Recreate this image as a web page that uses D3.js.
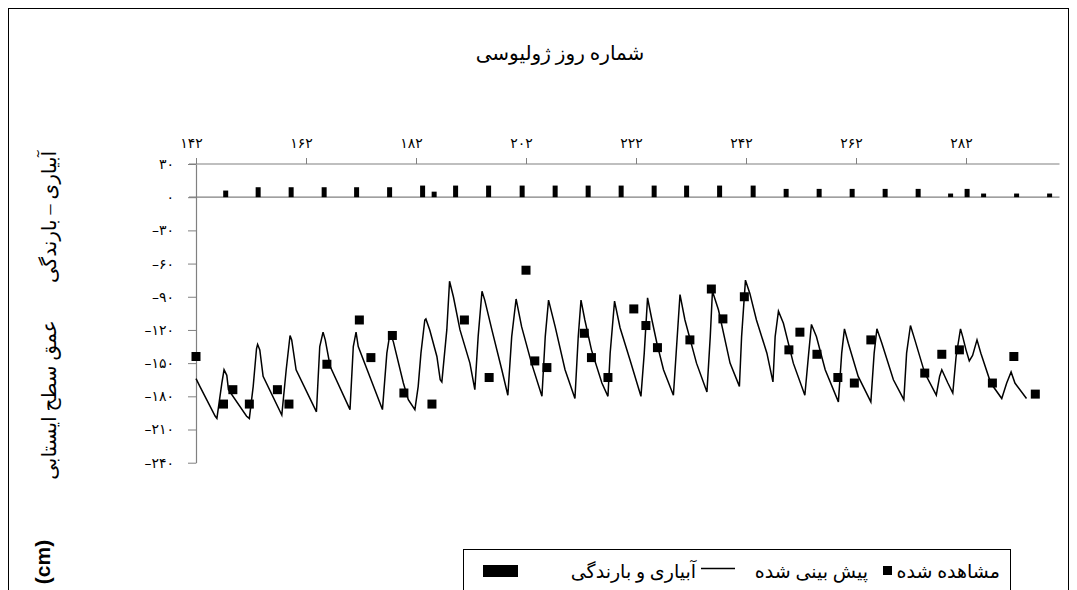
<!DOCTYPE html>
<html><head><meta charset="utf-8">
<script src="https://cdn.jsdelivr.net/npm/d3@7"></script>
<style>
html,body{margin:0;padding:0;background:#fff;}
text{font-family:"Liberation Serif","DejaVu Serif","DejaVu Sans",serif;fill:#000;}
</style></head>
<body><svg id="c" width="1077" height="590"></svg>
<script>
// ---- data ----
const xTicks = [142,162,182,202,222,242,262,282];
const yTicks = [30,0,-30,-60,-90,-120,-150,-180,-210,-240];
const barDays = [147.4,153.3,159.3,165.3,171.2,177.2,183.2,185.3,189.2,195.2,201.3,207.3,213.3,219.3,225.3,231.2,237.2,243.3,249.3,255.3,261.3,267.3,273.3,279.2,282.2,285.2,291.2,297.2];
const barVals = [6,9,9,9,9,9,10.5,5,10.5,10.5,10.5,10.5,10.5,10.5,10.5,10.5,10.5,10.5,7.5,7.5,7.5,7.5,7.5,3.3,7.5,3.3,3.3,3.3];
const obsDays = [142,147,148.7,151.7,156.8,158.9,165.8,171.7,173.8,177.7,179.8,184.9,190.8,195.3,202,203.6,205.8,212.6,213.9,216.9,221.6,223.8,225.9,231.8,235.7,237.8,241.7,249.8,251.8,254.9,258.7,261.7,264.7,274.5,277.6,280.8,286.8,290.7,294.6];
const obsVals = [-144,-187,-174,-187,-174,-187,-151,-111,-145,-125,-177,-187,-111,-163,-66,-148,-154,-123,-145,-163,-101,-116,-136,-129,-83,-110,-90,-138,-122,-142,-163,-168,-129,-159,-142,-138,-168,-144,-178];
const simDays = [142,142.7,145.5,145.8,146.7,147.1,147.6,147.9,151.2,151.7,152.4,153.0,153.2,153.6,154.2,157.6,158.4,159.1,159.4,160.2,163.9,164.5,165.1,165.5,166.4,170.0,170.6,171.1,171.5,175.9,176.7,177.3,177.9,179.7,180.6,181.8,182.4,182.9,183.6,183.8,184.5,185.8,186.4,186.7,187.6,188.1,188.8,190.0,191.8,192.7,193.3,194.0,194.5,195.8,197.6,198.7,199.4,200.2,201.2,203.0,204.9,205.5,206.1,207.3,209.1,210.9,211.5,212.0,212.7,213.9,215.8,216.9,217.3,218.1,219.1,220.9,222.9,223.5,224.1,224.9,225.8,227.0,228.8,229.3,230.0,230.9,233.0,234.9,235.5,235.9,237.0,239.1,240.8,241.2,241.9,242.7,243.9,245.8,246.9,247.3,247.9,248.8,250.6,252.7,253.4,253.9,254.8,256.4,258.8,259.4,259.9,260.6,262.4,264.7,265.3,265.8,266.7,268.8,270.7,271.2,271.9,272.7,274.5,276.6,277.2,277.6,278.7,279.6,280.2,281.0,281.4,282.0,282.6,283.2,284.0,284.7,286.5,288.5,289.4,290.2,290.9,293.0];
const simVals = [-164,-171,-198,-200,-168,-156,-161,-174,-198,-200,-171,-137,-133,-138,-162,-197,-156,-125,-129,-156,-194,-135,-122,-129,-153,-192,-135,-122,-135,-192,-141,-122,-131,-168,-183,-192,-171,-141,-111,-110,-120,-144,-165,-167,-120,-76,-90,-120,-150,-174,-126,-85,-93,-120,-156,-179,-126,-92,-117,-150,-180,-126,-93,-117,-156,-182,-126,-93,-111,-138,-168,-180,-141,-94,-118,-147,-180,-141,-91,-111,-132,-156,-179,-141,-88,-111,-150,-176,-126,-85,-102,-150,-171,-126,-75,-87,-111,-141,-167,-126,-103,-114,-150,-179,-141,-115,-126,-156,-185,-141,-119,-132,-162,-185,-141,-119,-132,-165,-183,-141,-116,-129,-159,-179,-162,-156,-168,-177,-144,-119,-126,-138,-148,-143,-129,-141,-168,-182,-168,-158,-168,-182];
const title = "شماره روز ژولیوسی";
const yTitleTop = "آبیاری – بارندگی";
const yTitleBottom = "عمق سطح ایستابی";
const yUnit = "(cm)";
const legendLabels = ["مشاهده شده","پیش بینی شده","آبیاری و بارندگی"];

// ---- helpers ----
const fa = n => String(Math.abs(n)).replace(/\d/g, d => "۰۱۲۳۴۵۶۷۸۹"[d]);
const svg = d3.select("#c");
const x = d3.scaleLinear().domain([142, 299]).range([196, 1059.5]);
const y = d3.scaleLinear().domain([30, -240]).range([164, 462.7]);
const axisColor = "#808080";

// outer frame
svg.append("rect").attr("x",8.5).attr("y",8.5).attr("width",1060).attr("height",600)
  .attr("fill","none").attr("stroke","#000").attr("stroke-width",1);

// title
svg.append("text").attr("x",560).attr("y",60).attr("text-anchor","middle")
  .attr("font-size",20).text(title);

// top x axis (at y=30)
const gx = svg.append("g").attr("transform",`translate(0,${y(30)})`)
  .call(d3.axisTop(x).tickValues(xTicks).tickSize(6).tickSizeOuter(0).tickFormat(fa));
gx.select(".domain").remove();
gx.selectAll(".tick line").attr("stroke",axisColor);
gx.selectAll(".tick text").attr("font-size",14).attr("y",-16).attr("dx",-5).attr("letter-spacing","2px")
  .style("font-family",'"DejaVu Sans",serif');

// horizontal lines at 30 and 0
[30,0].forEach(v=>{
  svg.append("line").attr("x1",189).attr("x2",1059.5).attr("y1",y(v)).attr("y2",y(v))
    .attr("stroke",axisColor).attr("stroke-width",1.2);
});

// y axis
const gy = svg.append("g").attr("transform","translate(196,0)")
  .call(d3.axisLeft(y).tickValues(yTicks).tickSize(8).tickSizeOuter(0)
    .tickFormat(v => v < 0 ? "\u2013" + fa(v) : fa(v)));
gy.select(".domain").attr("stroke",axisColor).attr("stroke-width",1.2);
gy.selectAll(".tick line").attr("stroke",axisColor);
gy.selectAll(".tick text").attr("font-size",14).attr("x",-22).attr("letter-spacing","2px")
  .style("font-family",'"DejaVu Sans",serif');

// y titles
svg.append("text").attr("transform","translate(56,217) rotate(-90)").attr("text-anchor","middle")
  .attr("font-size",20).text(yTitleTop);
svg.append("text").attr("transform","translate(56,400) rotate(-90)").attr("text-anchor","middle")
  .attr("font-size",20).text(yTitleBottom);
svg.append("text").attr("transform","translate(50,562) rotate(-90)").attr("text-anchor","middle")
  .attr("font-size",21).attr("font-weight","bold").style("font-family","'Liberation Sans',Arial,sans-serif").text(yUnit);

// bars
svg.append("g").selectAll("rect").data(barDays).join("rect")
  .attr("x",(d)=>x(d)-2.5).attr("width",5)
  .attr("y",(d,i)=>y(barVals[i])).attr("height",(d,i)=>y(0)-y(barVals[i]))
  .attr("fill","#000");

// simulated line
const pts = simDays.map((d,i)=>[d, simVals[i]]);
svg.append("path").datum(pts)
  .attr("d", d3.line().x(d=>x(d[0])).y(d=>y(d[1])))
  .attr("fill","none").attr("stroke","#000").attr("stroke-width",1.5);

// observed squares
svg.append("g").selectAll("rect").data(obsDays).join("rect")
  .attr("x",d=>x(d)-4.5).attr("y",(d,i)=>y(obsVals[i])-4.5)
  .attr("width",9).attr("height",9).attr("fill","#000");

// legend
const lg = svg.append("g");
lg.append("rect").attr("x",463.5).attr("y",549.5).attr("width",547).attr("height",60)
  .attr("fill","#fff").attr("stroke","#000");
lg.append("text").attr("x",1000).attr("y",578).attr("text-anchor","end").attr("font-size",19).text(legendLabels[0]);
lg.append("rect").attr("x",883).attr("y",566).attr("width",9).attr("height",9).attr("fill","#000");
lg.append("text").attr("x",868).attr("y",578).attr("text-anchor","end").attr("font-size",19).text(legendLabels[1]);
lg.append("line").attr("x1",701).attr("x2",735).attr("y1",568.5).attr("y2",568.5).attr("stroke","#000").attr("stroke-width",1.5);
lg.append("text").attr("x",696).attr("y",578).attr("text-anchor","end").attr("font-size",19).text(legendLabels[2]);
lg.append("rect").attr("x",483).attr("y",565).attr("width",35).attr("height",12).attr("fill","#000");
</script></body></html>
